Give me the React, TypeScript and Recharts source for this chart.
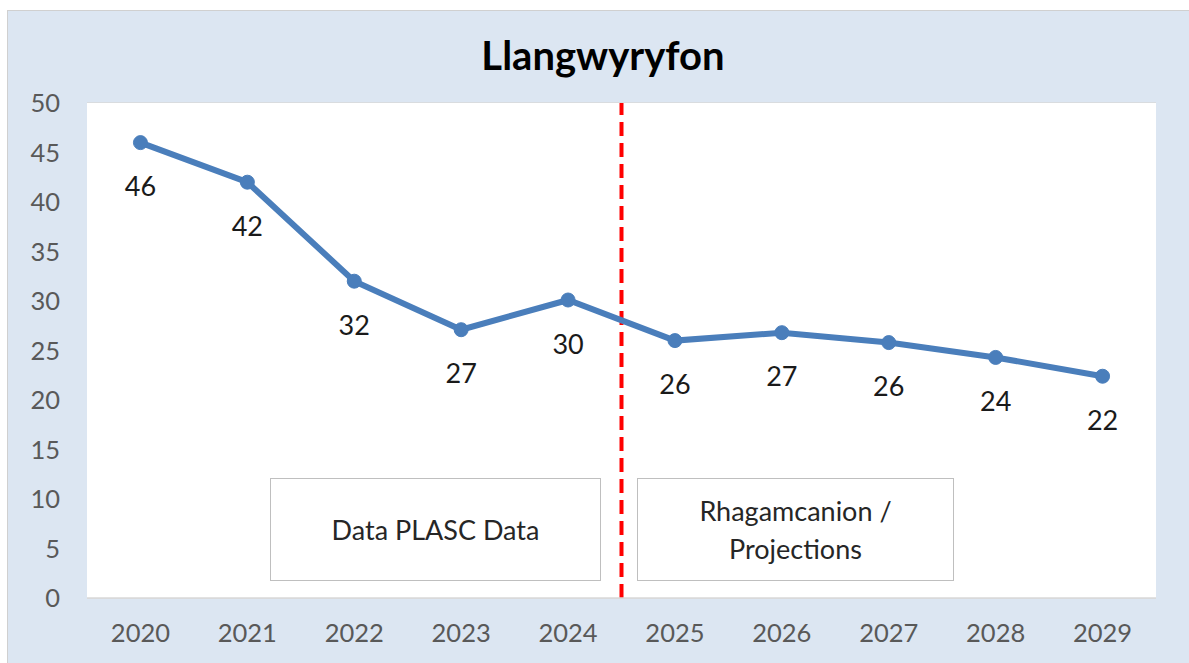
import React from 'react';
import { LineChart, Line, XAxis, YAxis, CartesianGrid, ReferenceLine, LabelList } from 'recharts';

const years = ['2020', '2021', '2022', '2023', '2024', '2025', '2026', '2027', '2028', '2029'];
const pupils = [46, 42, 32, 27.1, 30.1, 26, 26.8, 25.8, 24.3, 22.4];
const yTicks = [0, 5, 10, 15, 20, 25, 30, 35, 40, 45, 50];

const FONT = 'Lato, "Open Sans", sans-serif';

const data = years.map((year, i) => ({ idx: i, year, value: pupils[i] }));

function PointLabel(props: any) {
  const { x, y, value } = props;
  return (
    <text
      x={x}
      y={y + 43}
      textAnchor="middle"
      dominantBaseline="central"
      fontSize={27}
      fontFamily={FONT}
      fill="#1a1a1a"
    >
      {Math.round(value)}
    </text>
  );
}

const boxStyle: React.CSSProperties = {
  position: 'absolute',
  top: 478,
  height: 103,
  background: '#fff',
  border: '1.5px solid #bfbfbf',
  boxSizing: 'border-box',
  display: 'flex',
  alignItems: 'center',
  justifyContent: 'center',
  textAlign: 'center',
  fontFamily: FONT,
  fontSize: 27,
  lineHeight: '38px',
  color: '#262626',
};

export default function App() {
  return (
    <div style={{ position: 'fixed', left: 0, top: 0, width: 1189, height: 663, background: '#fff' }}>
      <div
        style={{
          position: 'absolute',
          left: 7,
          top: 10,
          width: 1189,
          height: 663,
          background: '#dce6f2',
          border: '1px solid #d0d0d0',
        }}
      />
      <div
        style={{
          position: 'absolute',
          left: 0,
          width: 1206,
          top: 30,
          textAlign: 'center',
          fontFamily: FONT,
          fontWeight: 700,
          fontSize: 40,
          lineHeight: '50px',
          color: '#000',
        }}
      >
        Llangwyryfon
      </div>
      <div style={{ position: 'absolute', left: 0, top: 0 }}>
        <LineChart
          width={1189}
          height={663}
          data={data}
          margin={{ top: 103, right: 33, bottom: 25, left: 27 }}
        >
          <rect x={87} y={103} width={1069} height={495} fill="#fff" />
          <CartesianGrid vertical={false} stroke="#d9d9d9" strokeWidth={1.5} />
          <XAxis
            dataKey="idx"
            type="number"
            domain={[-0.5, 9.5]}
            ticks={years.map((_, i) => i)}
            tickFormatter={(v: number) => years[v]}
            height={40}
            axisLine={{ stroke: '#d9d9d9', strokeWidth: 1.5 }}
            tickLine={false}
            tickSize={0}
            tickMargin={26}
            tick={{ fill: '#595959', fontSize: 25.5, fontFamily: FONT }}
          />
          <YAxis
            domain={[0, 50]}
            ticks={yTicks}
            width={60}
            axisLine={false}
            tickLine={false}
            tickSize={0}
            tickMargin={27}
            tick={{ fill: '#595959', fontSize: 25.5, fontFamily: FONT }}
          />
          <ReferenceLine
            x={4.5}
            stroke="#ff0000"
            strokeWidth={4}
            strokeDasharray="14 7"
          />
          <Line
            dataKey="value"
            stroke="#4a7ebb"
            strokeWidth={6}
            dot={{ r: 7, fill: '#4a7ebb', stroke: '#4a7ebb', strokeWidth: 1 }}
            isAnimationActive={false}
          >
            <LabelList dataKey="value" content={<PointLabel />} />
          </Line>
        </LineChart>
      </div>
      <div style={{ ...boxStyle, left: 270, width: 331 }}>Data PLASC Data</div>
      <div style={{ ...boxStyle, left: 637, width: 317 }}>
        Rhagamcanion /<br />
        Projections
      </div>
    </div>
  );
}
